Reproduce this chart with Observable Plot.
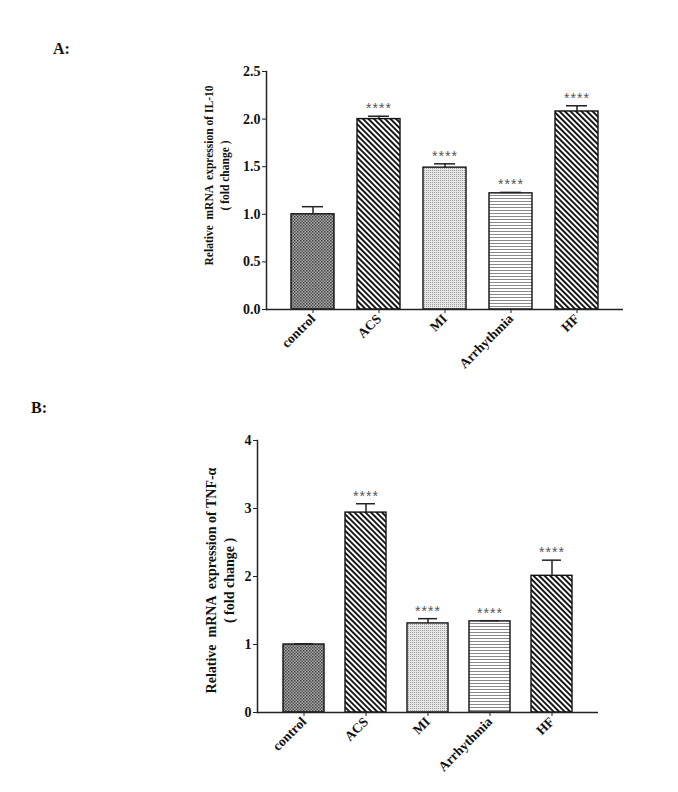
<!DOCTYPE html>
<html><head><meta charset="utf-8">
<script src="https://cdn.jsdelivr.net/npm/d3@7"></script>
<script src="https://cdn.jsdelivr.net/npm/@observablehq/plot@0.6"></script>
<style>
body{margin:0;background:#fff;width:678px;height:792px;position:relative;overflow:hidden;font-family:"Liberation Serif",serif}
.panel{position:absolute;font-weight:bold;font-size:16px;line-height:1;color:#111}
.chart{position:absolute;left:0}
</style></head><body>
<div class="panel" style="left:53px;top:41px">A:</div>
<div class="panel" style="left:31px;top:400px">B:</div>
<div id="a" class="chart" style="top:0"></div>
<div id="b" class="chart" style="top:380px"></div>
<script>
// ---- data ----
const categories = ["control", "ACS", "MI", "Arrhythmia", "HF"];
const il10Mean   = [1.00, 2.00, 1.49, 1.22, 2.08];
const il10ErrTop = [1.08, 2.03, 1.53, 1.23, 2.14];
const il10Sig    = ["", "****", "****", "****", "****"];
const il10Ticks  = [0, 0.5, 1.0, 1.5, 2.0, 2.5];
const tnfMean    = [1.00, 2.94, 1.31, 1.34, 2.01];
const tnfErrTop  = [1.01, 3.07, 1.38, 1.35, 2.24];
const tnfSig     = ["", "****", "****", "****", "****"];
const tnfTicks   = [0, 1, 2, 3, 4];
const il10Label  = "Relative  mRNA  expression of IL-10\n( fold change )";
const tnfLabel   = "Relative  mRNA  expression of TNF-\u03b1\n( fold change )";

// ---- styles ----
const patternOf = {control: "checker", ACS: "diag", MI: "dots", Arrhythmia: "hlines", HF: "diag"};

function addPatterns(svg, prefix) {
  const defs = d3.select(svg).insert("defs", ":first-child");
  let p = defs.append("pattern").attr("id", prefix + "checker").attr("patternUnits", "userSpaceOnUse")
    .attr("width", 3).attr("height", 3);
  p.append("rect").attr("width", 3).attr("height", 3).attr("fill", "#a8a8a8");
  p.append("rect").attr("width", 1.5).attr("height", 1.5).attr("fill", "#444");
  p.append("rect").attr("x", 1.5).attr("y", 1.5).attr("width", 1.5).attr("height", 1.5).attr("fill", "#555");
  p = defs.append("pattern").attr("id", prefix + "diag").attr("patternUnits", "userSpaceOnUse")
    .attr("width", 3.9).attr("height", 10).attr("patternTransform", "rotate(-45)");
  p.append("rect").attr("width", 3.9).attr("height", 10).attr("fill", "#fff");
  p.append("rect").attr("width", 1.9).attr("height", 10).attr("fill", "#111");
  p = defs.append("pattern").attr("id", prefix + "dots").attr("patternUnits", "userSpaceOnUse")
    .attr("width", 2).attr("height", 2);
  p.append("rect").attr("width", 2).attr("height", 2).attr("fill", "#e6e6e6");
  p.append("rect").attr("width", 1).attr("height", 1).attr("fill", "#a0a0a0");
  p = defs.append("pattern").attr("id", prefix + "hlines").attr("patternUnits", "userSpaceOnUse")
    .attr("width", 6).attr("height", 3);
  p.append("rect").attr("width", 6).attr("height", 3).attr("fill", "#fff");
  p.append("rect").attr("width", 6).attr("height", 1).attr("fill", "#8a8a8a");
}

function makeChart(o) {
  const data = categories.map((c, i) => ({cat: c, mean: o.mean[i], err: o.err[i], sig: o.sig[i]}));
  const svg = Plot.plot({
    width: 678, height: o.height,
    marginLeft: o.marginLeft, marginRight: o.marginRight, marginTop: o.marginTop, marginBottom: o.marginBottom,
    x: {domain: categories, paddingInner: o.pi, paddingOuter: o.po, label: null},
    y: {domain: [0, o.max], label: null},
    color: {type: "identity"},
    style: {fontFamily: "Liberation Serif", fontWeight: "bold", color: "#111", background: "transparent"},
    marks: [
      Plot.barY(data, {x: "cat", y: "mean", fill: d => `url(#${o.prefix}${patternOf[d.cat]})`, stroke: "#111", strokeWidth: 1.4}),
      Plot.ruleX(data, {x: "cat", y1: "mean", y2: "err", stroke: "#222", strokeWidth: 1.5}),
      Plot.tickY(data, {x: "cat", y: "err", insetLeft: 11, insetRight: 11, stroke: "#222", strokeWidth: 1.5}),
      Plot.text(data, {x: "cat", y: "err", text: "sig", lineAnchor: "bottom", dy: -3, fontFamily: "Liberation Sans", fontWeight: "normal", fontSize: 14, fill: "#555"}),
      Plot.axisY({ticks: o.ticks, tickSize: 4, tickPadding: 2, tickFormat: o.fmt, fontSize: o.tickFont, label: null, stroke: "#222"}),
      Plot.axisX({tickSize: 4, tickPadding: 3, tickRotate: -45, fontSize: 13.5, label: null, stroke: "#222"}),
      Plot.ruleY([0], {stroke: "#222", strokeWidth: 1.5}),
      Plot.frame({anchor: "left", stroke: "#222", strokeWidth: 1.5}),
      Plot.text([o.label], {frameAnchor: "left", rotate: -90, dx: o.ldx, dy: o.ldy, text: d => d, fontSize: o.labelFont, lineHeight: o.lineHeight, textAnchor: "middle", fill: "#111"})
    ]
  });
  addPatterns(svg, o.prefix);
  d3.select(svg).selectAll("text").filter(function() { return this.textContent === "****"; })
    .style("letter-spacing", "1px");
  return svg;
}

document.getElementById("a").append(makeChart({
  prefix: "a-", mean: il10Mean, err: il10ErrTop, sig: il10Sig, ticks: il10Ticks, max: 2.5,
  fmt: d3.format(".1f"), tickFont: 14, height: 380, marginLeft: 266, marginRight: 55, marginTop: 71, marginBottom: 71,
  pi: 0.35, po: 0.37, label: il10Label, labelFont: 11.5, lineHeight: 1.45, ldx: -51, ldy: -15
}));
document.getElementById("b").append(makeChart({
  prefix: "b-", mean: tnfMean, err: tnfErrTop, sig: tnfSig, ticks: tnfTicks, max: 4,
  fmt: d3.format("d"), tickFont: 14, height: 412, marginLeft: 257, marginRight: 80, marginTop: 60, marginBottom: 80,
  pi: 0.336, po: 0.38, label: tnfLabel, labelFont: 14, lineHeight: 1.3, ldx: -38, ldy: 4
}));
</script>
</body></html>
